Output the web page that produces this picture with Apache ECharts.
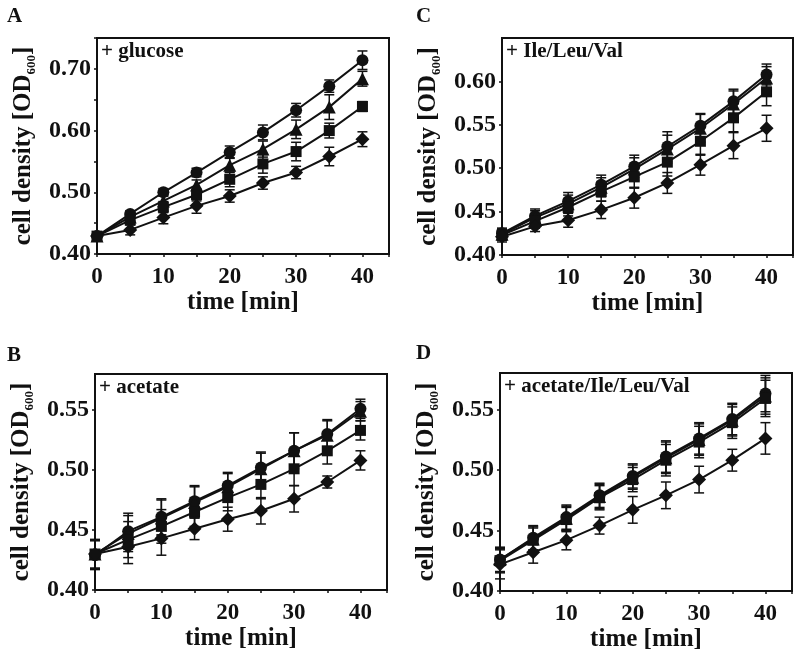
<!DOCTYPE html>
<html>
<head>
<meta charset="utf-8">
<script src="https://cdn.jsdelivr.net/npm/echarts@6/dist/echarts.min.js"></script>
<style>html,body{margin:0;padding:0;background:#fff}#c{width:800px;height:662px}</style>
</head>
<body>
<div id="c"></div>
<script>
// ---- data ----
const time = [0, 5, 10, 15, 20, 25, 30, 35, 40];
const xTicks = [0, 10, 20, 30, 40];
const panelLetters = ['A', 'C', 'B', 'D'];
const panelLabels = ['+ glucose', '+ Ile/Leu/Val', '+ acetate', '+ acetate/Ile/Leu/Val'];

// A: + glucose
const aCircle   = [0.429, 0.465, 0.500, 0.532, 0.565, 0.597, 0.633, 0.672, 0.714];
const aTriangle = [0.429, 0.460, 0.486, 0.512, 0.544, 0.570, 0.602, 0.638, 0.684];
const aSquare   = [0.429, 0.455, 0.476, 0.496, 0.521, 0.546, 0.566, 0.600, 0.639];
const aDiamond  = [0.429, 0.439, 0.459, 0.478, 0.494, 0.515, 0.532, 0.558, 0.586];
const aCircleErr   = [0.005, 0.005, 0.006, 0.007, 0.010, 0.012, 0.011, 0.010, 0.015];
const aTriangleErr = [0.005, 0.006, 0.008, 0.008, 0.012, 0.013, 0.015, 0.020, 0.012];
const aSquareErr   = [0.005, 0.007, 0.009, 0.010, 0.012, 0.015, 0.015, 0.012, 0.008];
const aDiamondErr  = [0.005, 0.008, 0.010, 0.012, 0.010, 0.010, 0.010, 0.015, 0.012];

// C: + Ile/Leu/Val
const cCircle   = [0.425, 0.445, 0.462, 0.481, 0.502, 0.525, 0.549, 0.577, 0.608];
const cTriangle = [0.424, 0.443, 0.459, 0.478, 0.499, 0.522, 0.546, 0.574, 0.604];
const cSquare   = [0.423, 0.439, 0.455, 0.473, 0.490, 0.507, 0.531, 0.558, 0.588];
const cDiamond  = [0.421, 0.433, 0.440, 0.452, 0.466, 0.483, 0.504, 0.526, 0.546];
const cCircleErr   = [0.006, 0.008, 0.010, 0.011, 0.013, 0.017, 0.014, 0.014, 0.012];
const cTriangleErr = [0.006, 0.008, 0.010, 0.011, 0.013, 0.016, 0.016, 0.015, 0.013];
const cSquareErr   = [0.006, 0.008, 0.010, 0.011, 0.013, 0.016, 0.016, 0.016, 0.016];
const cDiamondErr  = [0.006, 0.006, 0.008, 0.010, 0.012, 0.012, 0.012, 0.015, 0.015];

// B: + acetate
const bCircle   = [0.429, 0.449, 0.461, 0.474, 0.487, 0.502, 0.516, 0.530, 0.551];
const bTriangle = [0.430, 0.447, 0.460, 0.473, 0.486, 0.501, 0.516, 0.529, 0.549];
const bSquare   = [0.430, 0.442, 0.453, 0.465, 0.477, 0.488, 0.501, 0.516, 0.533];
const bDiamond  = [0.430, 0.436, 0.443, 0.451, 0.459, 0.466, 0.476, 0.490, 0.508];
const bCircleErr   = [0.012, 0.015, 0.015, 0.013, 0.011, 0.013, 0.015, 0.012, 0.008];
const bTriangleErr = [0.012, 0.015, 0.015, 0.013, 0.011, 0.013, 0.015, 0.012, 0.008];
const bSquareErr   = [0.012, 0.015, 0.014, 0.012, 0.011, 0.012, 0.014, 0.011, 0.008];
const bDiamondErr  = [0.012, 0.014, 0.014, 0.009, 0.010, 0.011, 0.011, 0.005, 0.008];

// D: + acetate/Ile/Leu/Val
const dCircle   = [0.426, 0.444, 0.461, 0.479, 0.495, 0.511, 0.526, 0.542, 0.563];
const dTriangle = [0.426, 0.443, 0.460, 0.478, 0.494, 0.510, 0.525, 0.541, 0.561];
const dSquare   = [0.425, 0.442, 0.459, 0.477, 0.492, 0.508, 0.523, 0.539, 0.559];
const dDiamond  = [0.422, 0.432, 0.442, 0.454, 0.467, 0.479, 0.492, 0.508, 0.526];
const dCircleErr   = [0.010, 0.010, 0.010, 0.010, 0.010, 0.013, 0.013, 0.013, 0.015];
const dTriangleErr = [0.010, 0.010, 0.010, 0.010, 0.010, 0.013, 0.013, 0.013, 0.015];
const dSquareErr   = [0.010, 0.010, 0.010, 0.010, 0.010, 0.013, 0.013, 0.013, 0.015];
const dDiamondErr  = [0.012, 0.009, 0.008, 0.007, 0.011, 0.011, 0.011, 0.009, 0.013];

const yMax = [0.75, 0.65, 0.58, 0.58];
const yInterval = [0.1, 0.05, 0.05, 0.05];

const panels = [
  { vals: [aCircle, aTriangle, aSquare, aDiamond], errs: [aCircleErr, aTriangleErr, aSquareErr, aDiamondErr] },
  { vals: [cCircle, cTriangle, cSquare, cDiamond], errs: [cCircleErr, cTriangleErr, cSquareErr, cDiamondErr] },
  { vals: [bCircle, bTriangle, bSquare, bDiamond], errs: [bCircleErr, bTriangleErr, bSquareErr, bDiamondErr] },
  { vals: [dCircle, dTriangle, dSquare, dDiamond], errs: [dCircleErr, dTriangleErr, dSquareErr, dDiamondErr] }
];

// ---- layout / style ----
const FONT = "'Liberation Serif', 'Times New Roman', serif";
const INK = '#111';
const grids = [
  { left: 97,  top: 38,  width: 292, height: 216 },
  { left: 502, top: 38,  width: 291, height: 217 },
  { left: 95,  top: 374, width: 292, height: 216 },
  { left: 500, top: 373, width: 292, height: 218 }
];
const letterPos = [[7, 6], [416, 6], [7, 345], [416, 343]];
const symbols = [['circle', 12], ['triangle', 13], ['rect', 11], ['diamond', 14]];

const xAxes = [], yAxes = [], series = [], graphics = [];
grids.forEach((g, i) => {
  xAxes.push({
    type: 'value', gridIndex: i, min: 0, max: 44, interval: 10,
    name: 'time [min]', nameLocation: 'middle', nameGap: 33,
    nameTextStyle: { fontFamily: FONT, fontWeight: 'bold', fontSize: 25, color: INK },
    axisLine: { show: true, lineStyle: { color: INK, width: 2 } },
    axisTick: { show: true, length: 3, lineStyle: { color: INK, width: 1.5 } },
    minorTick: { show: true, splitNumber: 2, length: 3, lineStyle: { color: INK, width: 1.5 } },
    axisLabel: { fontFamily: FONT, fontWeight: 'bold', fontSize: 23, color: INK, margin: 12, showMaxLabel: false,
      formatter: v => (xTicks.indexOf(v) >= 0 ? String(v) : '') },
    splitLine: { show: false }
  });
  yAxes.push({
    type: 'value', gridIndex: i, min: 0.4, max: yMax[i], interval: yInterval[i],
    name: '{a|cell density [OD}{s|600}{a|]}', nameLocation: 'middle', nameGap: 59, nameRotate: 90,
    nameTextStyle: { fontFamily: FONT, fontWeight: 'bold', fontSize: 25, color: INK,
      rich: {
        a: { fontFamily: FONT, fontWeight: 'bold', fontSize: 25, color: INK, lineHeight: 28 },
        s: { fontFamily: FONT, fontWeight: 'bold', fontSize: 13, color: INK, verticalAlign: 'bottom', lineHeight: 28, padding: [10, 0, 0, 0] }
      } },
    axisLine: { show: true, lineStyle: { color: INK, width: 2 } },
    axisTick: { show: true, length: 3, lineStyle: { color: INK, width: 1.5 } },
    minorTick: { show: i === 0, splitNumber: 2, length: 3, lineStyle: { color: INK, width: 1.5 } },
    axisLabel: { fontFamily: FONT, fontWeight: 'bold', fontSize: 24, color: INK, margin: 6, showMaxLabel: false,
      formatter: v => v.toFixed(2) },
    splitLine: { show: false }
  });
  const p = panels[i];
  p.vals.forEach((vals, k) => {
    series.push({
      type: 'line', xAxisIndex: i, yAxisIndex: i, z: 3,
      data: time.map((t, j) => [t, vals[j]]),
      symbol: symbols[k][0], symbolSize: symbols[k][1],
      itemStyle: { color: INK }, lineStyle: { color: INK, width: 2 },
      animation: false
    });
    series.push({
      type: 'custom', xAxisIndex: i, yAxisIndex: i, z: 2,
      data: time.map((t, j) => [t, vals[j] - p.errs[k][j], vals[j] + p.errs[k][j]]),
      encode: { x: 0, y: [1, 2] },
      renderItem: (params, api) => {
        const x = api.value(0);
        const lo = api.coord([x, api.value(1)]);
        const hi = api.coord([x, api.value(2)]);
        const w = 5, st = { stroke: INK, lineWidth: 1.5 };
        return { type: 'group', children: [
          { type: 'line', shape: { x1: hi[0], y1: hi[1], x2: lo[0], y2: lo[1] }, style: st },
          { type: 'line', shape: { x1: hi[0] - w, y1: hi[1], x2: hi[0] + w, y2: hi[1] }, style: st },
          { type: 'line', shape: { x1: lo[0] - w, y1: lo[1], x2: lo[0] + w, y2: lo[1] }, style: st }
        ] };
      },
      animation: false
    });
  });
  graphics.push({ type: 'text', left: letterPos[i][0], top: letterPos[i][1],
    style: { text: panelLetters[i], font: "bold 21px 'Liberation Serif', serif", fill: INK } });
  graphics.push({ type: 'text', left: g.left + 4, top: g.top + 3,
    style: { text: panelLabels[i], font: "bold 21px 'Liberation Serif', serif", fill: INK } });
});

const chart = echarts.init(document.getElementById('c'), null, { renderer: 'canvas' });
chart.setOption({
  animation: false,
  backgroundColor: '#fff',
  grid: grids.map(g => Object.assign({ show: true, borderColor: INK, borderWidth: 2, backgroundColor: 'transparent', containLabel: false }, g)),
  xAxis: xAxes,
  yAxis: yAxes,
  series: series,
  graphic: graphics
});
</script>
</body>
</html>
